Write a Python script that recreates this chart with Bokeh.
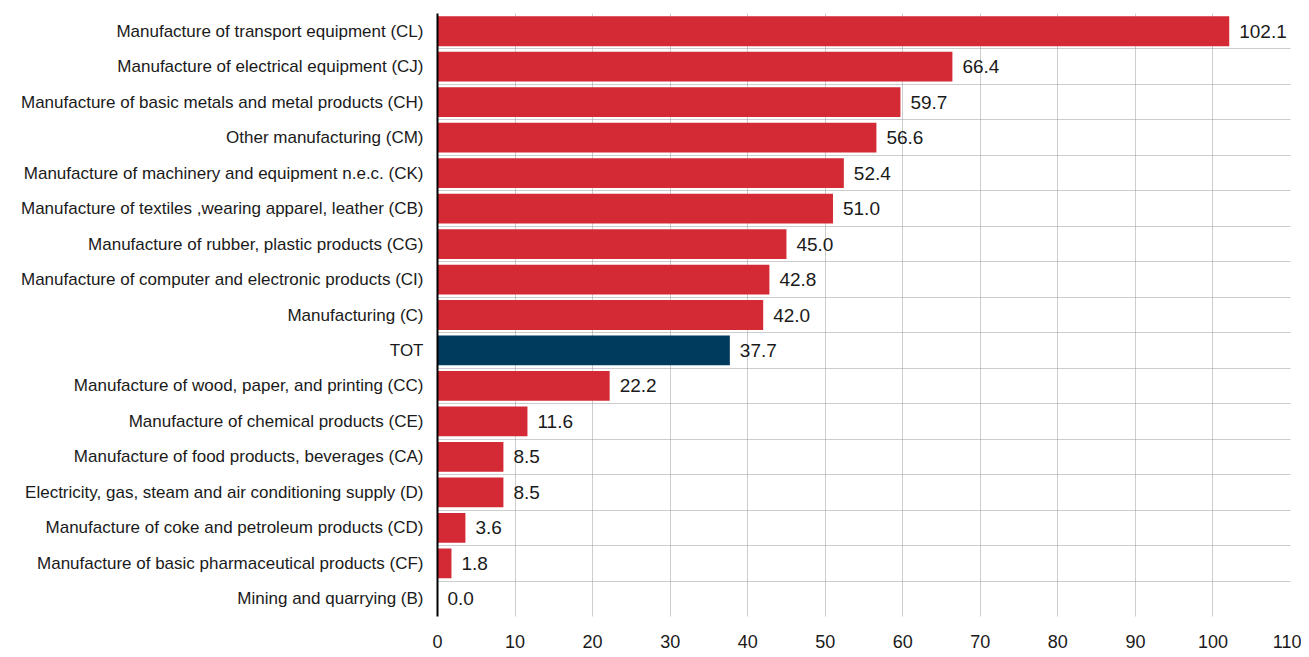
from bokeh.plotting import figure
from bokeh.models import ColumnDataSource, FixedTicker, Range1d, LabelSet
from bokeh.core.properties import value
from bokeh.embed import file_html
from bokeh.resources import INLINE

categories = [
    "Manufacture of transport equipment (CL)",
    "Manufacture of electrical equipment (CJ)",
    "Manufacture of basic metals and metal products (CH)",
    "Other manufacturing (CM)",
    "Manufacture of machinery and equipment n.e.c. (CK)",
    "Manufacture of textiles ,wearing apparel, leather (CB)",
    "Manufacture of rubber, plastic products (CG)",
    "Manufacture of computer and electronic products (CI)",
    "Manufacturing (C)",
    "TOT",
    "Manufacture of wood, paper, and printing (CC)",
    "Manufacture of chemical products (CE)",
    "Manufacture of food products, beverages (CA)",
    "Electricity, gas, steam and air conditioning supply (D)",
    "Manufacture of coke and petroleum products (CD)",
    "Manufacture of basic pharmaceutical products (CF)",
    "Mining and quarrying (B)",
]
values = [102.1, 66.4, 59.7, 56.6, 52.4, 51.0, 45.0, 42.8, 42.0, 37.7,
          22.2, 11.6, 8.5, 8.5, 3.6, 1.8, 0.0]
highlight = "TOT"
x_ticks = [0, 10, 20, 30, 40, 50, 60, 70, 80, 90, 100, 110]

RED = "#D42A36"
NAVY = "#003A5C"
FONT = "Liberation Sans"

n = len(categories)
ypos = [n - 1 - i for i in range(n)]
colors = [NAVY if c == highlight else RED for c in categories]
labels = ["%.1f" % v for v in values]

src = ColumnDataSource(dict(y=ypos, v=values, c=colors, lab=labels, cat=categories))

p = figure(width=1301, height=650, output_backend="svg", toolbar_location=None,
           x_range=Range1d(0, 110), y_range=Range1d(-0.5, n - 0.5),
           min_border_left=437, min_border_right=11, min_border_top=13, min_border_bottom=32)
p.outline_line_color = None
p.background_fill_color = "white"

p.hbar(y="y", left=0, right="v", height=0.84, color="c", line_color=None, source=src)

lbl = LabelSet(x="v", y="y", text="lab", source=src, x_offset=10,
               text_align="left", text_baseline="middle",
               text_font=value(FONT), text_font_size=value("19px"), text_color="#1a1a1a")
p.add_layout(lbl)

# y axis
p.yaxis.ticker = FixedTicker(ticks=ypos)
p.yaxis.major_label_overrides = {y: c for y, c in zip(ypos, categories)}
p.yaxis.major_tick_line_color = None
p.yaxis.minor_tick_line_color = None
p.yaxis.axis_line_color = "black"
p.yaxis.axis_line_width = 2
p.yaxis.major_label_text_font = FONT
p.yaxis.major_label_text_font_size = "17px"
p.yaxis.major_label_text_color = "#1a1a1a"
p.yaxis.major_label_standoff = 8

# x axis
p.xaxis.ticker = FixedTicker(ticks=x_ticks)
p.xaxis.axis_line_color = None
p.xaxis.major_tick_line_color = None
p.xaxis.minor_tick_line_color = None
p.xaxis.major_label_text_font = FONT
p.xaxis.major_label_text_font_size = "18px"
p.xaxis.major_label_text_color = "#1a1a1a"
p.xaxis.major_label_standoff = 12

# grids
p.xgrid.ticker = FixedTicker(ticks=x_ticks)
p.xgrid.grid_line_color = "#9a9a9a"
p.xgrid.grid_line_dash = "1 1"
p.xgrid.grid_line_width = 1
p.ygrid.ticker = FixedTicker(ticks=[i - 0.5 for i in range(n + 1)])
p.ygrid.grid_line_color = "#9a9a9a"
p.ygrid.grid_line_dash = "1 1"
p.ygrid.grid_line_width = 1

open("out.html", "w").write(file_html(p, INLINE))
